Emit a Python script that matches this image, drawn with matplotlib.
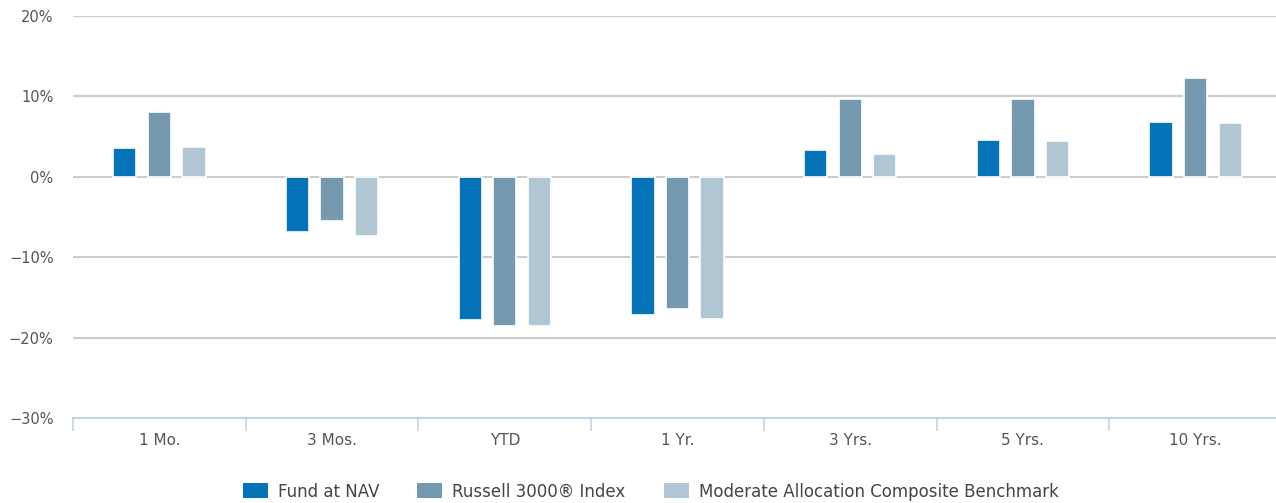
"""Total returns by period: fund vs. benchmarks."""

import matplotlib.pyplot as plt
import numpy as np
from matplotlib.patches import Patch
from matplotlib.ticker import FixedLocator, FuncFormatter

plt.rcParams["font.family"] = ["DejaVu Sans"]

periods = ["1 Mo.", "3 Mos.", "YTD", "1 Yr.", "3 Yrs.", "5 Yrs.", "10 Yrs."]
fund_nav = [3.6, -6.8, -17.8, -17.2, 3.3, 4.6, 6.8]
russell_3000 = [8.1, -5.5, -18.5, -16.5, 9.7, 9.7, 12.3]
moderate_alloc = [3.7, -7.3, -18.5, -17.7, 2.9, 4.4, 6.7]

series = [
    ("Fund at NAV", fund_nav, "#0673b9"),
    ("Russell 3000® Index", russell_3000, "#7599ae"),
    ("Moderate Allocation Composite Benchmark", moderate_alloc, "#b0c7d3"),
]

fig = plt.figure(figsize=(12.76, 5.03), dpi=100)
# plot area runs a few pixels past the right edge of the canvas
ax = fig.add_axes([0.0572, 0.169, 0.9475, 0.799])

x = np.arange(len(periods))
offset = 0.2
width = 0.135
for i, (name, vals, color) in enumerate(series):
    ax.bar(x + (i - 1) * offset, vals, width, color=color,
           edgecolor="white", linewidth=1.2, zorder=3, label=name)

ax.set_xlim(-0.5, len(periods) - 0.5)
ax.set_ylim(-30, 20)

# horizontal gridlines, the -30 level is the bottom spine instead
for y in [20, 10, 0, -10, -20]:
    ax.axhline(y, color="#cccccc", lw=1.5, zorder=1)

ax.set_yticks([20, 10, 0, -10, -20, -30])
ax.yaxis.set_major_formatter(FuncFormatter(lambda v, _: f"{v:.0f}%".replace("-", "\u2212")))
ax.tick_params(axis="y", length=0, pad=14, labelsize=10.5, labelcolor="#555555")

ax.set_xticks(x)
ax.set_xticklabels(periods)
ax.xaxis.set_minor_locator(FixedLocator(np.arange(-0.5, len(periods), 1.0)))
ax.tick_params(axis="x", which="major", length=0, pad=11, labelsize=11, labelcolor="#555555")
ax.tick_params(axis="x", which="minor", length=9, width=1.2, color="#c5d5e6")

for side in ["top", "right", "left"]:
    ax.spines[side].set_visible(False)
ax.spines["bottom"].set_color("#c5d5e6")
ax.spines["bottom"].set_linewidth(1.5)

handles = [Patch(facecolor=c, edgecolor="none", label=n) for n, _, c in series]
fig.legend(handles=handles, loc="lower center", bbox_to_anchor=(0.51, -0.025),
           ncol=3, frameon=False, fontsize=12, handlelength=1.5, handleheight=1.0,
           columnspacing=2.3, handletextpad=0.6, labelcolor="#444444")

fig.savefig("out.png", dpi=100)
